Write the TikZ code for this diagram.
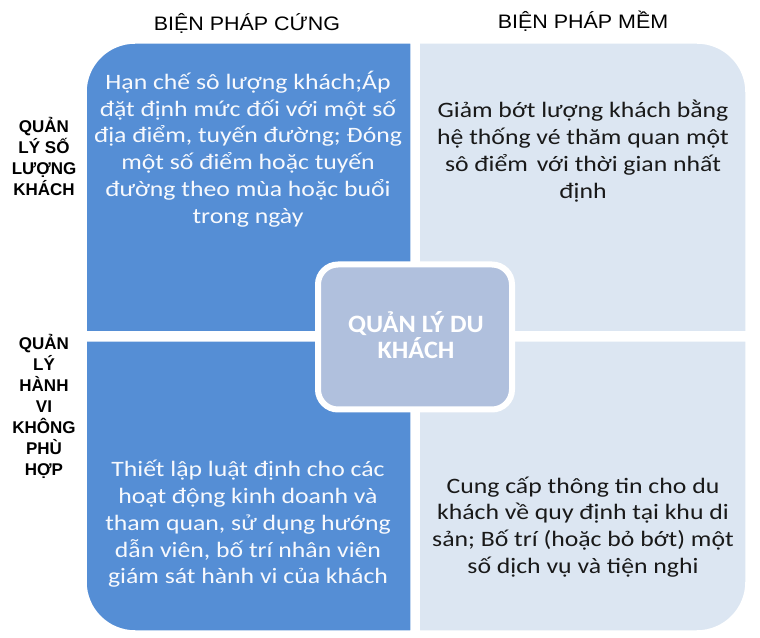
\documentclass[tikz,border=0pt]{standalone}
\usepackage{fontspec}
\setmainfont{Carlito}
\newfontfamily\qfont[FakeStretch=1.17]{Carlito}
\newfontfamily\cfont[FakeStretch=1.05]{Carlito}
\newfontfamily\hfont[FakeStretch=1.1]{Liberation Sans}
\newfontfamily\arialf{Liberation Sans}
\definecolor{darkq}{RGB}{85,142,213}
\definecolor{lightq}{RGB}{220,230,242}
\definecolor{centq}{RGB}{176,192,221}
\definecolor{txtdark}{RGB}{25,25,25}
\begin{document}
\begin{tikzpicture}[x=1pt,y=1pt,
  quad/.style={draw=white,line width=3.5pt,line join=round},
  darkquad/.style={quad,fill=darkq},
  lightquad/.style={quad,fill=lightq},
  qtext/.style={align=center,font=\qfont\fontsize{22}{26.8}\selectfont,inner sep=0pt},
  header/.style={font=\hfont\fontsize{19.5}{22}\selectfont,inner sep=0pt},
  sidelabel/.style={align=center,font=\arialf\bfseries\fontsize{17}{21}\selectfont,inner sep=0pt},
  centerbox/.style={draw=white,line width=6pt,fill=centq,rounded corners=20pt,
    minimum width=194pt,minimum height=145pt,inner sep=0pt}]
\useasboundingbox (0,0) rectangle (760,637);
% quadrants
\draw[darkquad] (85,304) -- (85,545) arc[start angle=180,end angle=90,radius=50] -- (412,595) -- (412,304) -- cycle;
\draw[lightquad] (418,304) -- (418,595) -- (697,595) arc[start angle=90,end angle=0,radius=50] -- (747,304) -- cycle;
\draw[darkquad] (412,297) -- (85,297) -- (85,55) arc[start angle=180,end angle=270,radius=50] -- (412,5) -- cycle;
\draw[lightquad] (418,297) -- (747,297) -- (747,55) arc[start angle=0,end angle=-90,radius=50] -- (418,5) -- cycle;
% center
\node[centerbox] (center) at (415,300) {};
\node[align=center,text=white,font=\cfont\bfseries\fontsize{25}{26}\selectfont,inner sep=0pt] (centertext) at (416,302) {QUẢN LÝ DU\\KHÁCH};
% quadrant texts
\node[qtext,text=white!95!darkq] (tl) at (248,488) {Hạn chế sô lượng khách;Áp\\đặt định mức đối với một số\\địa điểm, tuyến đường; Đóng\\một số điểm hoặc tuyến\\đường theo mùa hoặc buổi\\trong ngày};
\node[qtext,text=txtdark] (tr) at (583,486) {Giảm bớt lượng khách bằng\\hệ thống vé thăm quan một\\sô điểm\hspace{3pt} với thời gian nhất\\định};
\node[qtext,text=white!95!darkq] (bl) at (248,113) {Thiết lập luật định cho các\\hoạt động kinh doanh và\\tham quan, sử dụng hướng\\dẫn viên, bố trí nhân viên\\giám sát hành vi của khách};
\node[qtext,text=txtdark] (br) at (583,110) {Cung cấp thông tin cho du\\khách về quy định tại khu di\\sản; Bố trí (hoặc bỏ bớt) một\\số dịch vụ và tiện nghi};
% headers
\node[header] (hard) at (247,614) {BIỆN PHÁP CỨNG};
\node[header] (soft) at (583,616) {BIỆN PHÁP MỀM};
% side labels
\node[sidelabel] (row1) at (44,481) {QUẢN\\LÝ SỐ\\LƯỢNG\\KHÁCH};
\node[sidelabel] (row2) at (44,231) {QUẢN\\LÝ\\HÀNH\\VI\\KHÔNG\\PHÙ\\HỢP};
\end{tikzpicture}
\end{document}
